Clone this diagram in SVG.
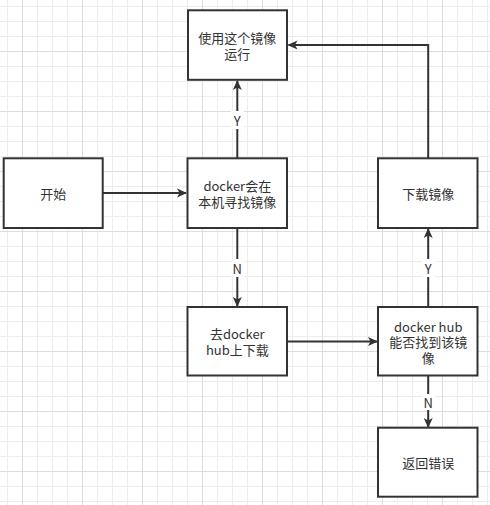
<svg xmlns="http://www.w3.org/2000/svg" width="490" height="505" viewBox="0 0 490 505">
  <defs>
    <pattern id="minor" patternUnits="userSpaceOnUse" x="7" y="6" width="15" height="15">
      <path d="M0.5 0V15M0 0.5H15" fill="none" stroke="#ececec" stroke-width="1"/>
    </pattern>
    <pattern id="major" patternUnits="userSpaceOnUse" x="22" y="51" width="60" height="60">
      <path d="M0.5 0V60M0 0.5H60" fill="none" stroke="#dcdcdc" stroke-width="1"/>
    </pattern>
    <marker id="arr" viewBox="0 0 10 10" refX="9" refY="5" markerWidth="10" markerHeight="10" markerUnits="userSpaceOnUse" orient="auto">
      <path d="M0 0.5L10 5L0 9.5L2.5 5Z" fill="#333"/>
    </marker>
  </defs>
  <style>
    .box rect { fill: #fff; stroke: #333; stroke-width: 2; }
    .t { font-family: "Noto Sans CJK SC", "Liberation Sans", sans-serif; font-size: 13px; fill: #333; text-anchor: middle; dominant-baseline: central; }
    .edge { fill: none; stroke: #333; stroke-width: 2; marker-end: url(#arr); }
    .lbg { fill: #fff; }
  </style>
  <rect width="490" height="505" fill="#fff"/>
  <rect width="490" height="505" fill="url(#minor)"/>
  <rect width="490" height="505" fill="url(#major)"/>

  <g id="connectors">
    <path class="edge" d="M103 193H186"/>
    <path class="edge" d="M237.3 158V81"/>
    <path class="edge" d="M237.3 228V306"/>
    <path class="edge" d="M287 341.5H377"/>
    <path class="edge" d="M428.2 307V229"/>
    <path class="edge" d="M428.2 158V45H288.5"/>
    <path class="edge" d="M428.2 376V427"/>
    <rect class="lbg" x="231" y="111" width="13" height="18"/>
    <text class="t" x="237.3" y="120">Y</text>
    <rect class="lbg" x="231" y="259" width="13" height="18"/>
    <text class="t" x="237.3" y="268">N</text>
    <rect class="lbg" x="422" y="259" width="13" height="18"/>
    <text class="t" x="428.2" y="268">Y</text>
    <rect class="lbg" x="422" y="394" width="13" height="16"/>
    <text class="t" x="428.2" y="402">N</text>
  </g>

  <g id="node-run" class="box">
    <rect x="188" y="10.3" width="99" height="69.5"/>
    <text class="t" x="237.3" y="37">使用这个镜像</text>
    <text class="t" x="237.3" y="53">运行</text>
  </g>
  <g id="node-start" class="box">
    <rect x="3.7" y="158.3" width="99" height="69.7"/>
    <text class="t" x="53.2" y="193">开始</text>
  </g>
  <g id="node-local" class="box">
    <rect x="187.5" y="158.3" width="99.5" height="69.7"/>
    <text class="t" x="237.3" y="185">docker会在</text>
    <text class="t" x="237.3" y="201">本机寻找镜像</text>
  </g>
  <g id="node-download-image" class="box">
    <rect x="378" y="158.3" width="99.5" height="69.7"/>
    <text class="t" x="428.2" y="193">下载镜像</text>
  </g>
  <g id="node-go-hub" class="box">
    <rect x="187.5" y="307" width="99.5" height="68.5"/>
    <text class="t" x="237.3" y="333.5">去docker</text>
    <text class="t" x="237.3" y="349.5">hub上下载</text>
  </g>
  <g id="node-hub-find" class="box">
    <rect x="378" y="307" width="99.5" height="68.5"/>
    <text class="t" x="428.2" y="326">docker hub</text>
    <text class="t" x="428.2" y="341.5">能否找到该镜</text>
    <text class="t" x="428.2" y="357">像</text>
  </g>
  <g id="node-error" class="box">
    <rect x="378" y="427.7" width="99.5" height="69"/>
    <text class="t" x="428.2" y="462">返回错误</text>
  </g>
</svg>
